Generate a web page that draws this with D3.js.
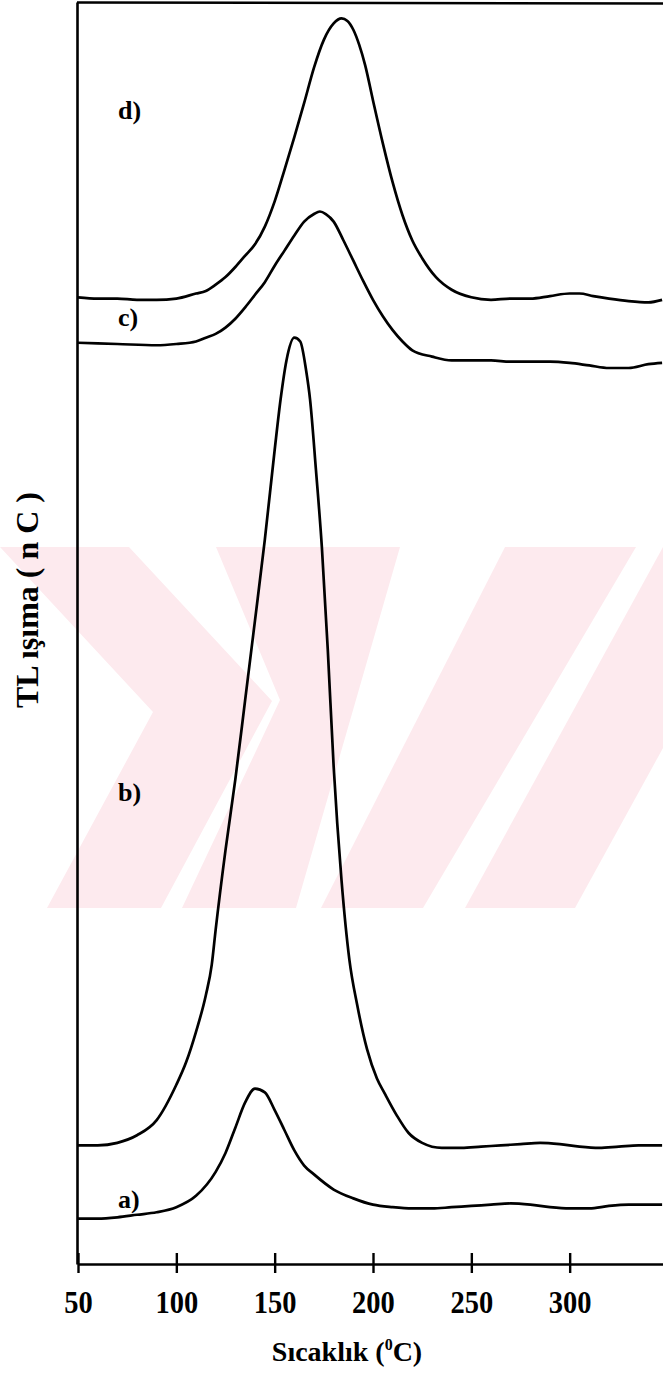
<!DOCTYPE html>
<html>
<head>
<meta charset="utf-8">
<script src="https://cdn.jsdelivr.net/npm/d3@7/dist/d3.min.js"></script>
<style>
  html, body { margin: 0; padding: 0; background: #fff; }
  svg { display: block; }
  text { font-family: "Liberation Serif", "Times New Roman", serif; font-weight: bold; fill: #000; }
</style>
</head>
<body>
<svg id="chart" width="663" height="1377"></svg>
<script>
// Glow curves: temperature (°C) and TL signal (arbitrary units, stacked traces)
const tempA = [50,60,70,80,90,100,110,120,125,130,135,140,145,150,155,160,165,170,180,190,200,210,220,230,240,250,260,270,280,290,300,310,320,330,340,347];
const signalA = [3.6,3.6,3.7,3.9,4.1,4.5,5.4,7.3,8.8,10.8,12.8,13.9,13.6,12.2,10.6,9.0,7.8,7.1,5.9,5.2,4.7,4.5,4.4,4.4,4.5,4.6,4.7,4.8,4.7,4.5,4.4,4.4,4.6,4.7,4.7,4.7];

const tempB = [50,60,70,80,90,100,105,110,115,118,120,125,130,135,140,145,150,153,156,160,163,166,168,171,174,177,180,184,188,192,197,202,206,212,218,225,235,245,255,265,275,285,295,305,315,325,335,347];
const signalB = [9.4,9.4,9.6,10.2,11.4,14.2,16.0,18.4,21.3,23.7,26.5,32.8,38.4,44.7,51.0,57.4,64.5,68.5,71.6,73.4,73.1,70.8,68.5,62.9,56.8,48.7,39.4,30.4,24.1,20.5,17.0,14.7,13.5,11.8,10.4,9.6,9.2,9.2,9.3,9.4,9.5,9.6,9.5,9.3,9.2,9.3,9.4,9.4];

const tempC = [50,70,90,100,110,115,120,125,130,135,140,145,150,155,160,165,170,173,176,180,185,190,195,200,205,210,215,220,230,240,250,260,270,280,290,300,310,320,330,340,347];
const signalC = [73.0,72.9,72.8,72.9,73.1,73.4,73.7,74.2,74.9,75.8,76.8,77.8,79.1,80.3,81.5,82.6,83.2,83.4,83.2,82.6,81.1,79.5,77.9,76.4,75.1,74.0,73.1,72.4,71.9,71.6,71.6,71.6,71.5,71.5,71.5,71.4,71.2,71.0,71.0,71.3,71.4];

const tempD = [50,60,70,80,90,100,110,115,120,125,130,135,140,145,150,155,160,165,170,175,180,184,187,190,193,196,200,205,210,215,220,225,232,240,250,260,270,280,290,300,305,312,320,330,340,347];
const signalD = [76.6,76.5,76.5,76.4,76.4,76.5,76.9,77.1,77.6,78.2,79.0,79.9,80.8,82.2,84.2,86.7,89.3,92.0,94.8,97.0,98.3,98.7,98.5,97.8,96.6,95.0,92.2,88.8,85.7,83.1,81.1,79.7,78.2,77.2,76.6,76.4,76.5,76.5,76.7,76.9,76.9,76.7,76.5,76.3,76.2,76.4];

const traceLabels = ["a)", "b)", "c)", "d)"];
const labelTemp = [50, 50, 50, 50];
const labelSignal = [4.4, 36.7, 74.3, 90.7];

const xTicks = [50, 100, 150, 200, 250, 300];
const xTitle = "Sıcaklık (";
const yTitle = "TL ışıma ( n C )";

const svg = d3.select("#chart");

const x = d3.scaleLinear().domain([50, 350]).range([78, 668]);
const y = d3.scaleLinear().domain([0, 100]).range([1264, 2]);

// faint background emblem: chevron followed by slanted stripes
const emblem = svg.append("g").attr("fill", "#fdeaee");
const emblemShapes = [
  [[0,547],[129,547],[272,701],[161,908],[47,908],[153,712]],
  [[216,547],[400,547],[296,908],[182,908],[280,700]],
  [[505,547],[636,547],[423,908],[321,908]],
  [[663,547],[663,748],[575,908],[465,908]]
];
emblem.selectAll("polygon").data(emblemShapes).join("polygon")
  .attr("points", d => d.map(p => p.join(",")).join(" "));

// axes
const axisStroke = 2.6;
svg.append("g")
  .attr("transform", `translate(${x(50) - 1},0)`)
  .call(d3.axisLeft(y).tickValues([]).tickSizeOuter(0))
  .call(g => g.select(".domain").attr("stroke", "#000").attr("stroke-width", axisStroke));

const xAxis = svg.append("g")
  .attr("transform", `translate(0,${y(0)})`)
  .call(d3.axisBottom(x).tickValues(xTicks).tickSizeOuter(0).tickFormat(d3.format("d")));
xAxis.select(".domain").attr("stroke", "#000").attr("stroke-width", axisStroke);
xAxis.selectAll(".tick line").attr("stroke", "#000").attr("stroke-width", 2.4).attr("y1", -11).attr("y2", 9);
xAxis.selectAll(".tick text")
  .attr("y", 49).attr("dy", 0)
  .attr("transform", "scale(0.92,1)")
  .style("font-family", "'Liberation Serif', serif")
  .style("font-weight", "bold")
  .style("font-size", "31px")
  .attr("fill", "#000");

// top frame
svg.append("line")
  .attr("x1", x(50) - 1).attr("x2", x(350))
  .attr("y1", y(100) + 0.5).attr("y2", y(100) + 1.5)
  .attr("stroke", "#000").attr("stroke-width", 2.6);

// glow curves
const line = d3.line()
  .x(d => x(d[0]))
  .y(d => y(d[1]))
  .curve(d3.curveMonotoneX);

const series = [
  d3.zip(tempA, signalA),
  d3.zip(tempB, signalB),
  d3.zip(tempC, signalC),
  d3.zip(tempD, signalD)
];
svg.append("g").selectAll("path").data(series).join("path")
  .attr("d", line)
  .attr("fill", "none")
  .attr("stroke", "#000")
  .attr("stroke-width", 2.7)
  .attr("stroke-linejoin", "round");

// trace labels
svg.append("g").selectAll("text").data(traceLabels).join("text")
  .attr("x", (d, i) => x(labelTemp[i]) + 40)
  .attr("y", (d, i) => y(labelSignal[i]))
  .style("font-size", "26px")
  .text(d => d);

// axis titles
const xt = svg.append("text")
  .attr("x", 347).attr("y", 1361)
  .attr("text-anchor", "middle")
  .style("font-size", "28px");
xt.append("tspan").text(xTitle);
xt.append("tspan").attr("dy", -11).style("font-size", "16px").text("0");
xt.append("tspan").attr("dy", 11).text("C)");

svg.append("text")
  .attr("transform", "translate(38,600) rotate(-90)")
  .attr("text-anchor", "middle")
  .style("font-size", "32px")
  .text(yTitle);
</script>
</body>
</html>
